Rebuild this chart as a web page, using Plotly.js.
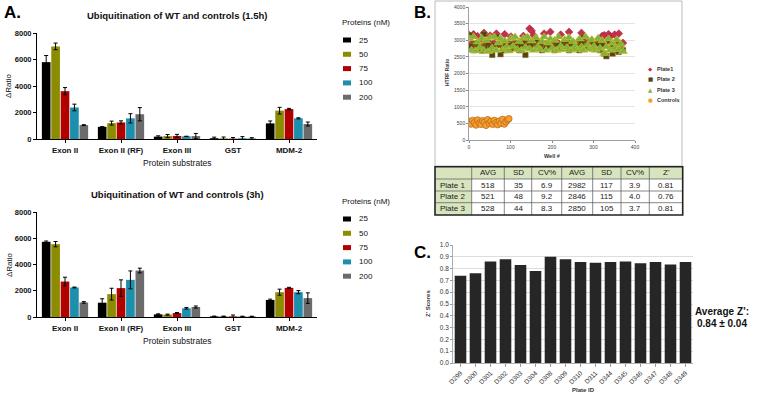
<!DOCTYPE html>
<html><head><meta charset="utf-8">
<script src="https://cdn.plot.ly/plotly-3.0.1.min.js"></script>
<style>html,body{margin:0;padding:0;background:#fff;}#chart{width:760px;height:401px;}</style>
</head><body><div id="chart"></div>
<script>
// ---------- Panel A data ----------
const substrates = ["Exon II","Exon II (RF)","Exon III","GST","MDM-2"];
const concentrations = ["25","50","75","100","200"];
const concColors = ["#000000","#8c8c00","#b00000","#1b8fab","#6b6b6b"];
const ratio15h_25  = [5800, 920, 180, 60, 1180];
const ratio15h_50  = [6990, 1200, 220, 50, 2140];
const ratio15h_75  = [3610, 1250, 230, 30, 2260];
const ratio15h_100 = [2380, 1560, 200, 60, 1560];
const ratio15h_200 = [1050, 1870, 220, 40, 1130];
const err15h_25  = [500, 0, 60, 80, 180];
const err15h_50  = [250, 150, 120, 100, 250];
const err15h_75  = [270, 120, 120, 80, 50];
const err15h_100 = [250, 350, 0, 120, 40];
const err15h_200 = [30, 500, 200, 60, 150];
const ratio3h_25  = [5730, 1090, 200, 50, 1300];
const ratio3h_50  = [5550, 1740, 180, 50, 1890];
const ratio3h_75  = [2700, 2200, 300, 50, 2220];
const ratio3h_100 = [2250, 2830, 660, 40, 1890];
const ratio3h_200 = [1110, 3540, 760, 40, 1440];
const err3h_25  = [60, 300, 40, 20, 60];
const err3h_50  = [200, 450, 40, 20, 230];
const err3h_75  = [330, 630, 40, 100, 40];
const err3h_100 = [30, 680, 60, 20, 120];
const err3h_200 = [60, 180, 80, 20, 400];

// ---------- Panel B data ----------
const wells = [1,6,11,16,21,26,31,36,41,46,51,56,61,66,71,76,81,86,91,96,101,106,111,116,121,126,131,136,141,146,151,156,161,166,171,176,181,186,191,196,201,206,211,216,221,226,231,236,241,246,251,256,261,266,271,276,281,286,291,296,301,306,311,316,321,326,331,336,341,346,351,356,361,366,371];
const plate1 = [3150,2900,3180,2880,3120,2920,2880,3220,2900,2950,3140,2880,2900,3200,2880,2940,2880,3180,2900,2880,3110,2880,2920,2900,2880,2900,3130,2880,2940,3350,3280,3150,2900,2960,2880,2900,3200,2880,2910,3250,2900,2880,2940,2900,3170,2890,2880,2920,3250,2880,2910,2880,2930,2980,3220,2900,2880,2910,2960,2880,2900,2890,2880,2910,3130,3150,2920,3180,3120,2890,3170,2940,3200,2900,2920];
const plate2 = [3150,2820,2700,2900,2780,2850,2690,3180,2800,2900,2750,2560,2850,3100,2880,2580,2800,2700,2900,2850,2750,2880,2800,2900,2700,2850,2950,2560,2800,2900,2850,2750,2950,2820,2880,2700,2900,2850,2780,2950,2800,2700,2900,2850,2750,2880,2800,2950,2700,2850,2900,2780,2850,2700,2950,3080,2800,2900,2850,2750,2880,2800,2900,2700,2850,2600,2520,2980,2750,2600,2850,2700,2650,2900,2700];
const plate3 = [3050,2700,3100,2680,2950,2780,3060,2700,2990,2660,3080,2760,3100,2700,2920,3050,2720,2980,2800,2680,3060,2820,3100,2720,2960,2700,3060,2780,3100,2740,2980,2700,3080,2800,2720,2960,3100,2700,2920,3040,2760,3000,2690,3100,2820,2720,3020,2780,3080,2700,2960,2820,2720,3040,2800,2700,3100,2860,2740,3020,2820,2700,3060,2760,2990,2600,2800,3040,2700,2920,2760,3020,2720,2880,2660];
const controlWells = [1,5,9,13,17,21,25,29,33,37,41,45,49,53,57,61,65,69,73,77,81,85,89,93,96];
const controls = [560,480,590,520,450,600,510,470,580,530,440,610,500,560,470,590,520,460,570,500,620,480,550,610,640];

// table
const tableHeader = ["","AVG","SD","CV%","AVG","SD","CV%","Z'"];
const plateNames = ["Plate 1","Plate 2","Plate 3"];
const lowAvg = ["518","521","528"];
const lowSd = ["35","48","44"];
const lowCv = ["6.9","9.2","8.3"];
const highAvg = ["2982","2846","2850"];
const highSd = ["117","115","105"];
const highCv = ["3.9","4.0","3.7"];
const zPrime = ["0.81","0.76","0.81"];

// ---------- Panel C data ----------
const plateIds = ["D299","D300","D301","D302","D303","D304","D308","D309","D310","D311","D344","D345","D346","D347","D348","D349"];
const zScores = [0.74,0.76,0.86,0.88,0.83,0.78,0.90,0.88,0.855,0.85,0.855,0.86,0.845,0.855,0.835,0.855];

// ---------- helpers ----------
const W = 760, H = 401;
const px = v => v / W;
const py = v => 1 - v / H;
const AF = "Liberation Sans, Arial, sans-serif";

const r15 = [ratio15h_25, ratio15h_50, ratio15h_75, ratio15h_100, ratio15h_200];
const e15 = [err15h_25, err15h_50, err15h_75, err15h_100, err15h_200];
const r3 = [ratio3h_25, ratio3h_50, ratio3h_75, ratio3h_100, ratio3h_200];
const e3 = [err3h_25, err3h_50, err3h_75, err3h_100, err3h_200];

const traces = [];
function addBars(vals, errs, xa, ya) {
  vals.forEach((v, i) => {
    traces.push({
      type: 'bar', x: substrates, y: v, xaxis: xa, yaxis: ya,
      name: concentrations[i], showlegend: false,
      marker: {color: concColors[i], line: {width: 0}},
      error_y: {type: 'data', array: errs[i], visible: true, color: '#000', thickness: 1, width: 2}
    });
  });
}
addBars(r15, e15, 'x', 'y');
addBars(r3, e3, 'x2', 'y2');

// Panel B scatter
traces.push({type:'scatter', mode:'markers', x: wells, y: plate1, xaxis:'x3', yaxis:'y3', showlegend:false,
  marker:{symbol:'diamond', size:6, color:'#c4314b', line:{color:'#9a2038', width:0.5}}});
traces.push({type:'scatter', mode:'markers', x: wells, y: plate2, xaxis:'x3', yaxis:'y3', showlegend:false,
  marker:{symbol:'square', size:5.5, color:'#574411', line:{color:'#8a7a30', width:0.5}}});
traces.push({type:'scatter', mode:'markers', x: wells, y: plate3, xaxis:'x3', yaxis:'y3', showlegend:false,
  marker:{symbol:'triangle-up', size:8, color:'#7cb342', line:{color:'#d8c21a', width:0.6}}});
traces.push({type:'scatter', mode:'markers', x: controlWells, y: controls, xaxis:'x3', yaxis:'y3', showlegend:false,
  marker:{symbol:'circle', size:6.5, color:'#f3a12c', line:{color:'#c0671a', width:0.8}}});

// Panel C bars
traces.push({type:'bar', x: plateIds, y: zScores, xaxis:'x4', yaxis:'y4', showlegend:false,
  marker:{color:'#262626', line:{width:0}}});

const axA = {
  showline:true, linecolor:'#000', linewidth:1, ticks:'outside', ticklen:3, tickcolor:'#000',
  showgrid:false, zeroline:false, tickfont:{family:AF, size:7.5, color:'#111', weight:'bold'}
};
const xA = Object.assign({}, axA, {type:'category', range:[-0.5,4.5], tickfont:{family:AF, size:8, color:'#111', weight:'bold'}});
const yA = Object.assign({}, axA, {range:[0,8000], tickvals:[0,2000,4000,6000,8000], ticktext:["0","2000","4000","6000","8000"]});

const layout = {
  width: W, height: H, margin:{l:0,r:0,t:0,b:0}, paper_bgcolor:'#fff', plot_bgcolor:'rgba(0,0,0,0)',
  showlegend:false, barmode:'group', bargap:0.16, bargroupgap:0.08,
  xaxis: Object.assign({}, xA, {domain:[px(37), px(317)], anchor:'y'}),
  yaxis: Object.assign({}, yA, {domain:[py(139), py(33)], anchor:'x'}),
  xaxis2: Object.assign({}, xA, {domain:[px(37), px(317)], anchor:'y2'}),
  yaxis2: Object.assign({}, yA, {domain:[py(317), py(212)], anchor:'x2'}),
  xaxis3: {domain:[px(469), px(635)], anchor:'y3', range:[0,400], tickvals:[0,100,200,300,400],
    showline:true, linecolor:'#888', linewidth:0.8, ticks:'outside', ticklen:2, tickcolor:'#888', showgrid:false, zeroline:false,
    tickfont:{family:AF, size:5, color:'#444'}},
  yaxis3: {domain:[py(140), py(7)], anchor:'x3', range:[0,4000], dtick:500,
    showline:true, linecolor:'#888', linewidth:0.8, ticks:'outside', ticklen:2, tickcolor:'#888', showgrid:true, gridcolor:'#d9d9d9', gridwidth:0.7, zeroline:false,
    tickfont:{family:AF, size:5, color:'#444'}},
  xaxis4: {domain:[px(453), px(693)], anchor:'y4', type:'category', tickangle:-45,
    showline:true, linecolor:'#999', linewidth:0.8, ticks:'outside', ticklen:3, tickcolor:'#999', showgrid:false, zeroline:false,
    tickfont:{family:AF, size:6.5, color:'#333'}},
  yaxis4: {domain:[py(363), py(245)], anchor:'x4', range:[0,1.0], dtick:0.1, tickformat:'.1f',
    showline:true, linecolor:'#999', linewidth:0.8, ticks:'outside', ticklen:2, tickcolor:'#999', showgrid:true, gridcolor:'#cfcfcf', gridwidth:0.7, zeroline:false,
    tickfont:{family:AF, size:6.5, color:'#333'}},
  shapes: [
    {type:'rect', xref:'paper', yref:'paper', x0:px(435), x1:px(682), y0:py(166), y1:py(1), line:{color:'#aaa', width:0.8}}
  ],
  annotations: [
    {text:'<b>A.</b>', x:px(2), y:py(12), xanchor:'left', yanchor:'middle', font:{family:AF, size:17, color:'#000'}},
    {text:'<b>B.</b>', x:px(412), y:py(12), xanchor:'left', yanchor:'middle', font:{family:AF, size:17, color:'#000'}},
    {text:'<b>C.</b>', x:px(412), y:py(252), xanchor:'left', yanchor:'middle', font:{family:AF, size:17, color:'#000'}},
    {text:'<b>Ubiquitination of WT and controls (1.5h)</b>', x:px(177), y:py(15), xanchor:'center', yanchor:'middle', font:{family:AF, size:9.5, color:'#111'}},
    {text:'<b>Ubiquitination of WT and controls (3h)</b>', x:px(177), y:py(194), xanchor:'center', yanchor:'middle', font:{family:AF, size:9.5, color:'#111'}},
    {text:'Protein substrates', x:px(177), y:py(163), xanchor:'center', yanchor:'middle', font:{family:AF, size:8.5, color:'#111'}},
    {text:'Protein substrates', x:px(177), y:py(341), xanchor:'center', yanchor:'middle', font:{family:AF, size:8.5, color:'#111'}},
    {text:'ΔRatio', x:px(9), y:py(86), textangle:-90, xanchor:'center', yanchor:'middle', font:{family:AF, size:8, color:'#111'}},
    {text:'ΔRatio', x:px(9), y:py(265), textangle:-90, xanchor:'center', yanchor:'middle', font:{family:AF, size:8, color:'#111'}},
    {text:'Proteins (nM)', x:px(340), y:py(22), xanchor:'left', yanchor:'middle', font:{family:AF, size:8, color:'#111'}},
    {text:'Proteins (nM)', x:px(340), y:py(201), xanchor:'left', yanchor:'middle', font:{family:AF, size:8, color:'#111'}},
    {text:'<b>HTRF Ratio</b>', x:px(447), y:py(73), textangle:-90, xanchor:'center', yanchor:'middle', font:{family:AF, size:5, color:'#333'}},
    {text:'<b>Well #</b>', x:px(552), y:py(156), xanchor:'center', yanchor:'middle', font:{family:AF, size:5.5, color:'#333'}},
    {text:"<b>Z' Scores</b>", x:px(428), y:py(304), textangle:-90, xanchor:'center', yanchor:'middle', font:{family:AF, size:6, color:'#333'}},
    {text:'<b>Plate ID</b>', x:px(583), y:py(390), xanchor:'center', yanchor:'middle', font:{family:AF, size:6, color:'#333'}},
    {text:'<b>Average Z’:</b>', x:px(722), y:py(311), xanchor:'center', yanchor:'middle', font:{family:AF, size:10, color:'#111'}},
    {text:'<b>0.84 ± 0.04</b>', x:px(722), y:py(323), xanchor:'center', yanchor:'middle', font:{family:AF, size:10, color:'#111'}}
  ]
};
layout.annotations.forEach(a => { a.xref = 'paper'; a.yref = 'paper'; a.showarrow = false; });

// custom legends for panel A (one per chart)
[40, 219].forEach(top => {
  concentrations.forEach((c, i) => {
    const yc = top + i * 14.3;
    layout.shapes.push({type:'rect', xref:'paper', yref:'paper', x0:px(343), x1:px(351), y0:py(yc+2.5), y1:py(yc-2.5), fillcolor:concColors[i], line:{width:0}});
    layout.annotations.push({text:c, xref:'paper', yref:'paper', showarrow:false, x:px(357), y:py(yc), xanchor:'left', yanchor:'middle', font:{family:AF, size:8, color:'#111'}});
  });
});
// legend for panel B
const bLegend = [["◆","#c4314b","Plate1"],["■","#574411","Plate 2"],["▲","#7cb342","Plate 3"],["●","#f3a12c","Controls"]];
bLegend.forEach((e, i) => {
  const yc = 69 + i * 10.3;
  layout.annotations.push({text:e[0], xref:'paper', yref:'paper', showarrow:false, x:px(650), y:py(yc), xanchor:'center', yanchor:'middle', font:{family:'DejaVu Sans', size:5.5, color:e[1]}});
  layout.annotations.push({text:'<b>'+e[2]+'</b>', xref:'paper', yref:'paper', showarrow:false, x:px(655), y:py(yc), xanchor:'left', yanchor:'middle', font:{family:AF, size:5.5, color:'#333'}});
});

// statistics table (built from the table arrays)
const colEdges = [435, 471.7, 504.3, 531.7, 561.7, 592.7, 621, 649.3, 682.7];
const rowEdges = [166.7, 179, 191, 202.7, 215];
const tableCols = [plateNames, lowAvg, lowSd, lowCv, highAvg, highSd, highCv, zPrime];
const green = '#d7e4bd';
layout.shapes.push({type:'rect', xref:'paper', yref:'paper', x0:px(colEdges[0]), x1:px(colEdges[8]), y0:py(rowEdges[1]), y1:py(rowEdges[0]), fillcolor:green, line:{width:0}, layer:'below'});
layout.shapes.push({type:'rect', xref:'paper', yref:'paper', x0:px(colEdges[0]), x1:px(colEdges[1]), y0:py(rowEdges[4]), y1:py(rowEdges[1]), fillcolor:green, line:{width:0}, layer:'below'});
colEdges.slice(1, -1).forEach(cx => layout.shapes.push({type:'line', xref:'paper', yref:'paper', x0:px(cx), x1:px(cx), y0:py(rowEdges[4]), y1:py(rowEdges[0]), line:{color:'#555', width:0.7}}));
rowEdges.slice(1, -1).forEach(ry => layout.shapes.push({type:'line', xref:'paper', yref:'paper', x0:px(colEdges[0]), x1:px(colEdges[8]), y0:py(ry), y1:py(ry), line:{color:'#555', width:0.7}}));
layout.shapes.push({type:'rect', xref:'paper', yref:'paper', x0:px(colEdges[0]), x1:px(colEdges[8]), y0:py(rowEdges[4]), y1:py(rowEdges[0]), line:{color:'#222', width:1.6}});
function cellText(t, c, r) {
  const left = c === 0;
  const xc = left ? colEdges[0] + 2.5 : (colEdges[c] + colEdges[c + 1]) / 2;
  const yc = (rowEdges[r] + rowEdges[r + 1]) / 2;
  layout.annotations.push({text:t, xref:'paper', yref:'paper', showarrow:false, x:px(xc), y:py(yc),
    xanchor: left ? 'left' : 'center', yanchor:'middle', font:{family:AF, size:8, color:'#222'}});
}
tableHeader.forEach((h, c) => { if (h) cellText(h, c, 0); });
tableCols.forEach((col, c) => col.forEach((v, r) => cellText(v, c, r + 1)));

Plotly.newPlot('chart', traces, layout, {staticPlot:true, displayModeBar:false});
</script>
</body></html>
